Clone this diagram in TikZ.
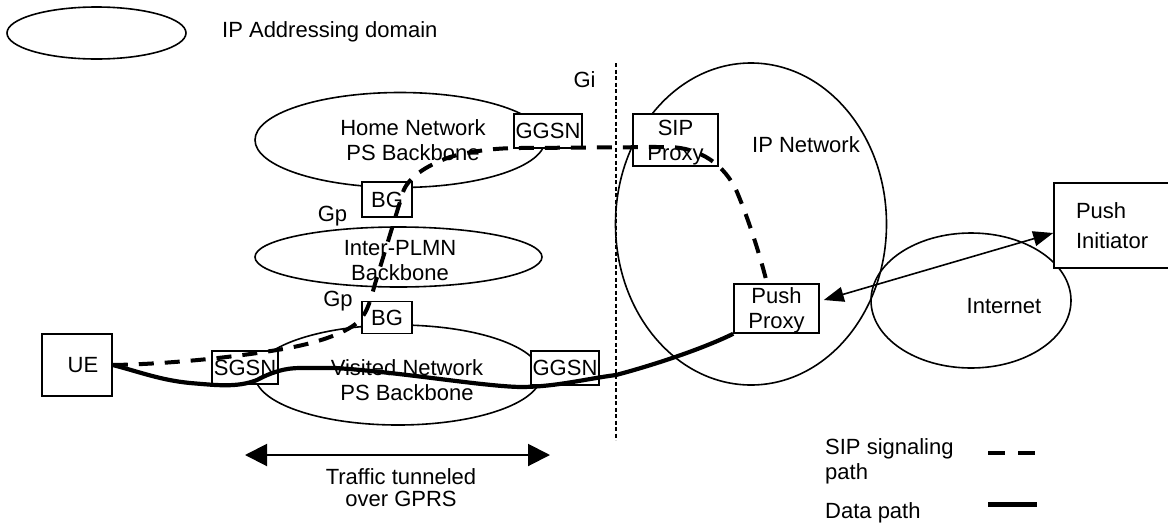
\documentclass[tikz,border=0pt]{standalone}
\usepackage{fontspec}
\setmainfont{Liberation Sans}
\usetikzlibrary{arrows.meta,positioning,calc,shapes.geometric}

\begin{document}
\begin{tikzpicture}[x=1pt,y=-1pt,
 every node/.style={font=\fontsize{22}{25}\selectfont,inner sep=0pt},
 dom/.style={draw,ellipse,line width=1.6pt},
 box/.style={draw,fill=white,line width=1.6pt,align=center},
 sig/.style={line width=4pt,dash pattern=on 15pt off 11pt},
 data/.style={line width=4.2pt},
 dbl/.style={{Triangle[length=20pt,width=15pt]}-{Triangle[length=20pt,width=15pt]},line width=1.6pt},
 tun/.style={{Triangle[length=22pt,width=22pt]}-{Triangle[length=22pt,width=22pt]},line width=2pt}]
\fill[white] (0,0) rectangle (1168,528);
\useasboundingbox (0,0) rectangle (1168,528);
% addressing domains
\node[dom,minimum width=179pt,minimum height=52pt] (legdom) at (96.5,33) {};
\node[anchor=west] (legdomtxt) at (222,32.3) {IP Addressing domain};
\node[dom,minimum width=290pt,minimum height=95pt] (home) at (400,140) {};
\node[dom,minimum width=287pt,minimum height=60pt] (inter) at (398.5,257) {};
\node[dom,minimum width=286pt,minimum height=100pt] (visited) at (398,375) {};
\node[dom,minimum width=271pt,minimum height=322pt] (ipnet) at (751,224) {};
\node[dom,minimum width=200pt,minimum height=135pt] (inet) at (971,300.5) {};
\node[align=center] (homelbl) at (413,140.5) {Home Network\\PS Backbone};
\node[align=center] (interlbl) at (400,261) {Inter-PLMN\\Backbone};
\node[align=center] (visitedlbl) at (407,380) {Visited Network\\PS Backbone};
\node (ipnetlbl) at (806,145) {IP Network};
\node (inetlbl) at (1004,306.5) {Internet};
% Gi reference point
\coordinate (gitop) at (616,63);
\coordinate (gibot) at (616,440);
\draw[line width=1.5pt,dash pattern=on 4pt off 2.5pt] (gitop) -- (gibot);
\node (gi) at (584.5,79.7) {Gi};
% network elements
\node[box,minimum width=70pt,minimum height=62pt] (ue) at (77,365) {\hspace*{12pt}UE};
\node[box,minimum width=66pt,minimum height=33pt] (sgsn) at (245,367.5) {SGSN};
\node[box,minimum width=68pt,minimum height=34pt] (ggsnv) at (565,368) {GGSN};
\node[box,minimum width=68pt,minimum height=34pt] (ggsnh) at (548,131) {GGSN};
\node[box,minimum width=50pt,minimum height=35pt] (bgh) at (387,199.5) {BG};
\node[box,minimum width=50pt,minimum height=32pt] (bgv) at (387,317.5) {BG};
\node[box,minimum width=85pt,minimum height=52pt] (sip) at (675.5,140) {SIP\\\smash{Proxy}};
\node[box,minimum width=85pt,minimum height=49pt] (pproxy) at (776.5,308.5) {Push\\\smash{Proxy}};
\node[box,minimum width=125pt,minimum height=85pt,align=left,text width=81pt,inner xsep=22pt] (pinit) at (1116.5,225.5) {Push\\[5pt]Initiator};
\node (gph) at (332.5,216.5) {Gp};
\node (gpv) at (338,301.5) {Gp};
% data path
\draw[data] (ue.east) .. controls (140,372) and (160,380) .. (190,383)
 .. controls (215,385) and (237,388) .. (257,380)
 .. controls (272,372) and (285,368) .. (300,368) -- (335,368)
 .. controls (400,372) and (480,386) .. (520,387)
 .. controls (555,387) and (585,379) .. (616,375)
 .. controls (650,366) and (700,350) .. (pproxy.south west);
% SIP signaling path
\draw[sig] (ue.east) .. controls (170,364) and (235,357) .. (277,350)
 .. controls (315,344) and (348,333) .. (360,320)
 .. controls (368,311) and (371,298) .. (375,284)
 -- (403,192)
 .. controls (408,178) and (425,166) .. (450,157)
 .. controls (475,150) and (500,148) .. (520,148)
 -- (667,147)
 .. controls (700,147) and (725,165) .. (737,192)
 .. controls (748,218) and (760,255) .. ([xshift=-9.5pt]pproxy.north);
\draw[dbl] ([xshift=4pt,yshift=8.5pt]pproxy.east) -- ([yshift=-7.5pt]pinit.west);
% GPRS tunnel
\coordinate (tunl) at (245,455);
\coordinate (tunr) at (550,455);
\draw[tun] (tunl) -- (tunr);
\node[align=center,font=\fontsize{22}{22}\selectfont] (tunlbl) at (401,488) {Traffic tunneled\\over GPRS};
% legend
\node[anchor=west,align=left] (legsig) at (825,461.8) {SIP signaling\\path};
\node[anchor=west] (legdata) at (825,513.3) {Data path};
\coordinate (sigA) at (988,453);
\coordinate (sigB) at (1035,453);
\draw[line width=4pt,dash pattern=on 17pt off 13pt] (sigA) -- (sigB);
\coordinate (datA) at (988,504);
\coordinate (datB) at (1037,504);
\draw[line width=5pt] (datA) -- (datB);
\end{tikzpicture}
\end{document}
